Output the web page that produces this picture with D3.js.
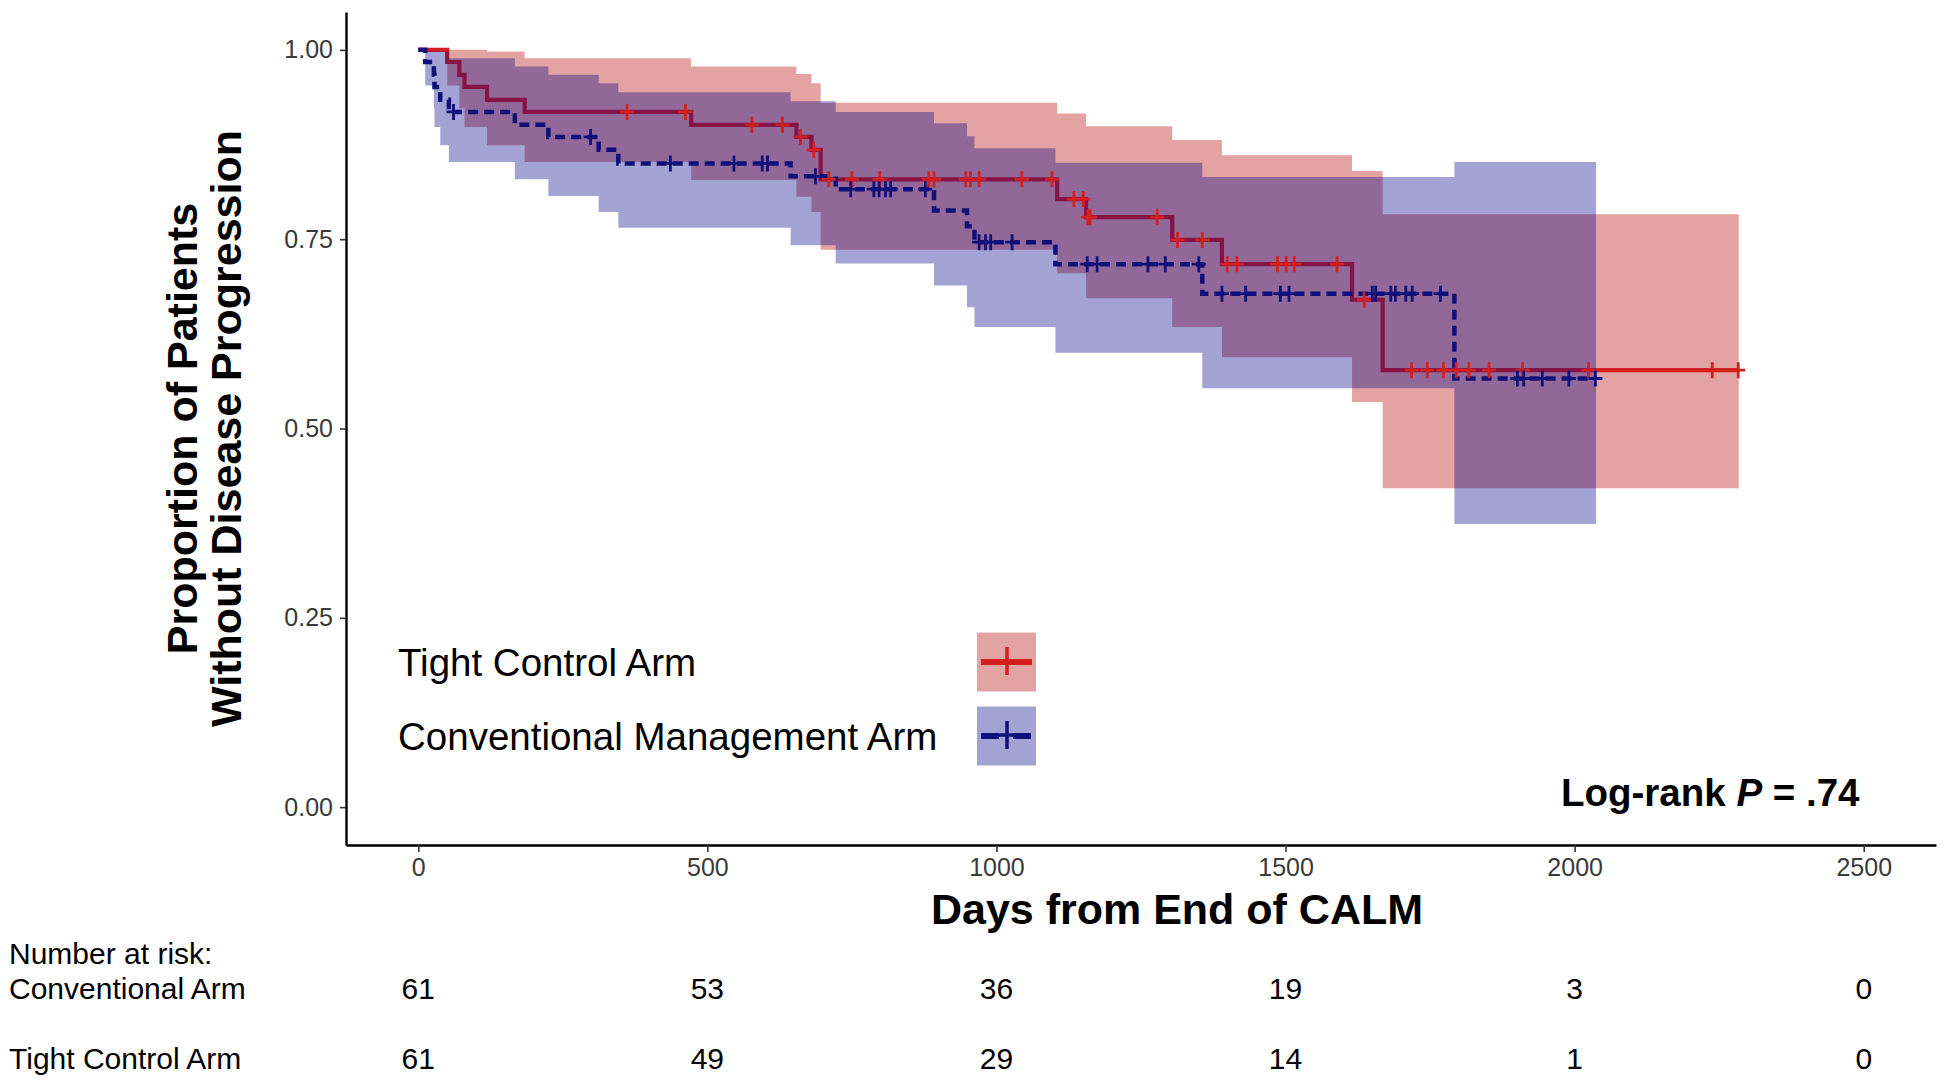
<!DOCTYPE html>
<html>
<head>
<meta charset="utf-8">
<script src="https://cdn.jsdelivr.net/npm/d3@7"></script>
<style>
    body { margin: 0; background: #fff; }
    svg { display: block; font-family: 'Liberation Sans', Arial, Helvetica, sans-serif; }
</style>
</head>
<body>
<div id="chart"></div>
<script>
// Kaplan-Meier steps: start day of each step and its value
const tightTime = [0, 50, 71, 80, 119, 184, 472, 654, 680, 696, 1105, 1155, 1304, 1390, 1615, 1668];
const tightSurv = [1, 0.984, 0.967, 0.951, 0.934, 0.918, 0.901, 0.885, 0.868, 0.829, 0.803, 0.779, 0.749, 0.717, 0.670, 0.577];
const tightUpper = [1, 1, 1, 1, 0.998, 0.989, 0.978, 0.968, 0.956, 0.930, 0.916, 0.899, 0.881, 0.861, 0.840, 0.783];
const tightLower = [1, 0.953, 0.923, 0.898, 0.874, 0.852, 0.828, 0.806, 0.786, 0.736, 0.705, 0.672, 0.634, 0.594, 0.535, 0.421];
const tightEnd = 2284;
const tightCensor = [361, 462, 577, 630, 661, 684, 710, 750, 798, 883, 892, 947, 955, 970, 1044, 1096,
    1134, 1150, 1158, 1162, 1278, 1313, 1356, 1399, 1416, 1486, 1501, 1515, 1589, 1636,
    1718, 1745, 1773, 1795, 1817, 1852, 1910, 2024, 2238, 2283];

const convTime = [0, 12, 27, 28, 38, 53, 167, 225, 312, 346, 644, 722, 892, 949, 962, 1102, 1356, 1792];
const convSurv = [1, 0.984, 0.967, 0.951, 0.934, 0.918, 0.901, 0.885, 0.868, 0.850, 0.833, 0.816, 0.788, 0.767, 0.746, 0.717, 0.678, 0.566];
const convUpper = [1, 0.998, 0.998, 0.998, 0.998, 0.989, 0.978, 0.967, 0.956, 0.944, 0.932, 0.918, 0.903, 0.886, 0.870, 0.851, 0.832, 0.852];
const convLower = [1, 0.953, 0.923, 0.898, 0.874, 0.852, 0.829, 0.807, 0.786, 0.765, 0.742, 0.718, 0.689, 0.660, 0.634, 0.600, 0.553, 0.374];
const convEnd = 2037;
const convCensor = [61, 298, 436, 546, 595, 604, 687, 748, 788, 797, 808, 817, 877, 970, 981, 990, 1027,
    1157, 1174, 1262, 1292, 1350, 1390, 1431, 1491, 1506, 1650, 1656, 1682, 1690, 1708, 1719,
    1768, 1901, 1912, 1944, 1990, 2036];

const xTicks = [0, 500, 1000, 1500, 2000, 2500];
const yTicks = [0, 0.25, 0.5, 0.75, 1];
const legendLabels = ['Tight Control Arm', 'Conventional Management Arm'];
const riskLabels = ['Conventional Arm', 'Tight Control Arm'];
const riskConventional = [61, 53, 36, 19, 3, 0];
const riskTight = [61, 49, 29, 14, 1, 0];

const width = 1950;
const height = 1085;
const panel = {left: 346, right: 1936, top: 12, bottom: 845};

const RED = '#d41f1f';
const NAVY = '#10107a';

const svg = d3.select('#chart')
    .append('svg')
    .attr('width', width)
    .attr('height', height);

const x = d3.scaleLinear()
    .domain([-125, 2625])
    .range([panel.left, panel.right]);

const y = d3.scaleLinear()
    .domain([-0.05, 1.05])
    .range([panel.bottom, panel.top]);

const stepLine = d3.line()
    .curve(d3.curveStepAfter)
    .x((d) => x(d.t))
    .y((d) => y(d.s));

const band = d3.area()
    .curve(d3.curveStepAfter)
    .x((d) => x(d.t))
    .y0((d) => y(d.lo))
    .y1((d) => y(d.hi));

function steps(times, surv, upper, lower, end) {
    const pts = times.map((t, i) => ({t: t, s: surv[i], hi: upper[i], lo: lower[i]}));
    const last = pts[pts.length - 1];
    pts.push({t: end, s: last.s, hi: last.hi, lo: last.lo});
    return pts;
}

function valueAt(times, surv, t) {
    return surv[d3.bisectRight(times, t) - 1];
}

function crossPath(cx, cy, w, h) {
    return 'M' + (cx - w / 2) + ',' + cy + 'H' + (cx + w / 2) +
        'M' + cx + ',' + (cy - h / 2) + 'V' + (cy + h / 2);
}

const tight = steps(tightTime, tightSurv, tightUpper, tightLower, tightEnd);
const conv = steps(convTime, convSurv, convUpper, convLower, convEnd);

// bands and lines, blue ribbon goes over the red line like in the original
svg.append('path')
    .attr('d', band(tight))
    .attr('fill', '#b50000')
    .attr('fill-opacity', 0.36);

svg.append('path')
    .attr('d', stepLine(tight))
    .attr('fill', 'none')
    .attr('stroke', RED)
    .attr('stroke-width', 4.2);

svg.append('path')
    .attr('d', band(conv))
    .attr('fill', '#000087')
    .attr('fill-opacity', 0.36);

svg.append('path')
    .attr('d', stepLine(conv))
    .attr('fill', 'none')
    .attr('stroke', NAVY)
    .attr('stroke-width', 4.5)
    .attr('stroke-dasharray', '10,6');

// censor marks
svg.append('g')
    .selectAll('path')
    .data(tightCensor)
    .enter()
    .append('path')
    .attr('d', (d) => crossPath(x(d), y(valueAt(tightTime, tightSurv, d)), 14, 16))
    .attr('stroke', RED)
    .attr('stroke-width', 2.8);

svg.append('g')
    .selectAll('path')
    .data(convCensor)
    .enter()
    .append('path')
    .attr('d', (d) => crossPath(x(d), y(valueAt(convTime, convSurv, d)), 14, 16))
    .attr('stroke', NAVY)
    .attr('stroke-width', 2.8);

// axes
const xAxis = d3.axisBottom(x)
    .tickValues(xTicks)
    .tickFormat(d3.format('d'))
    .tickSize(7)
    .tickSizeOuter(0)
    .tickPadding(6);

const yAxis = d3.axisLeft(y)
    .tickValues(yTicks)
    .tickFormat(d3.format('.2f'))
    .tickSize(6)
    .tickSizeOuter(0)
    .tickPadding(7);

const gx = svg.append('g')
    .attr('transform', 'translate(0,' + panel.bottom + ')')
    .call(xAxis);

const gy = svg.append('g')
    .attr('transform', 'translate(' + panel.left + ',0)')
    .call(yAxis);

[gx, gy].forEach((g) => {
    g.select('.domain').attr('stroke', '#000').attr('stroke-width', 2.4);
    g.selectAll('.tick line').attr('stroke', '#333').attr('stroke-width', 1.6);
    g.selectAll('.tick text')
        .attr('fill', '#3a3a3a')
        .style('font-size', '25px')
        .style('font-family', "'Liberation Sans', Arial, sans-serif");
});

// axis titles
svg.append('text')
    .attr('x', 1177)
    .attr('y', 924)
    .attr('text-anchor', 'middle')
    .style('font-size', '43px')
    .style('font-weight', 'bold')
    .text('Days from End of CALM');

const yTitle = svg.append('text')
    .attr('transform', 'translate(0,' + ((panel.top + panel.bottom) / 2) + ') rotate(-90)')
    .attr('text-anchor', 'middle')
    .style('font-size', '43px')
    .style('font-weight', 'bold');

yTitle.append('tspan').attr('x', 0).attr('y', 197).text('Proportion of Patients');
yTitle.append('tspan').attr('x', 0).attr('y', 241).text('Without Disease Progression');

// legend
const legendColors = [
    {fill: '#b50000', line: RED, dash: null},
    {fill: '#000087', line: NAVY, dash: '18,14'},
];
const legendRowY = [662, 736];

const legend = svg.append('g');

legendLabels.forEach((label, i) => {
    const cy = legendRowY[i];
    legend.append('text')
        .attr('x', 398)
        .attr('y', cy + 14)
        .style('font-size', '38.5px')
        .text(label);

    legend.append('rect')
        .attr('x', 977)
        .attr('y', cy - 29.5)
        .attr('width', 59)
        .attr('height', 59)
        .attr('fill', legendColors[i].fill)
        .attr('fill-opacity', 0.36);

    legend.append('line')
        .attr('x1', 981)
        .attr('x2', 1032)
        .attr('y1', cy)
        .attr('y2', cy)
        .attr('stroke', legendColors[i].line)
        .attr('stroke-width', 6)
        .attr('stroke-dasharray', legendColors[i].dash);

    legend.append('path')
        .attr('d', crossPath(1007, cy - 1, 24, 28))
        .attr('stroke', legendColors[i].line)
        .attr('stroke-width', 3.5);
});

// log-rank annotation
const logrank = svg.append('text')
    .attr('x', 1561)
    .attr('y', 806)
    .style('font-size', '38.5px')
    .style('font-weight', 'bold');

logrank.append('tspan').text('Log-rank ');
logrank.append('tspan').style('font-style', 'italic').text('P');
logrank.append('tspan').text(' = .74');

// number at risk table
const table = svg.append('g').style('font-size', '30px');

table.append('text')
    .attr('x', 9)
    .attr('y', 964)
    .text('Number at risk:');

const riskRowY = [999, 1069];
const riskValues = [riskConventional, riskTight];

riskLabels.forEach((label, i) => {
    table.append('text')
        .attr('x', 9)
        .attr('y', riskRowY[i])
        .text(label);

    table.append('g')
        .selectAll('text')
        .data(riskValues[i])
        .enter()
        .append('text')
        .attr('x', (d, j) => x(xTicks[j]))
        .attr('y', riskRowY[i])
        .attr('text-anchor', 'middle')
        .text((d) => d);
});
</script>
</body>
</html>
